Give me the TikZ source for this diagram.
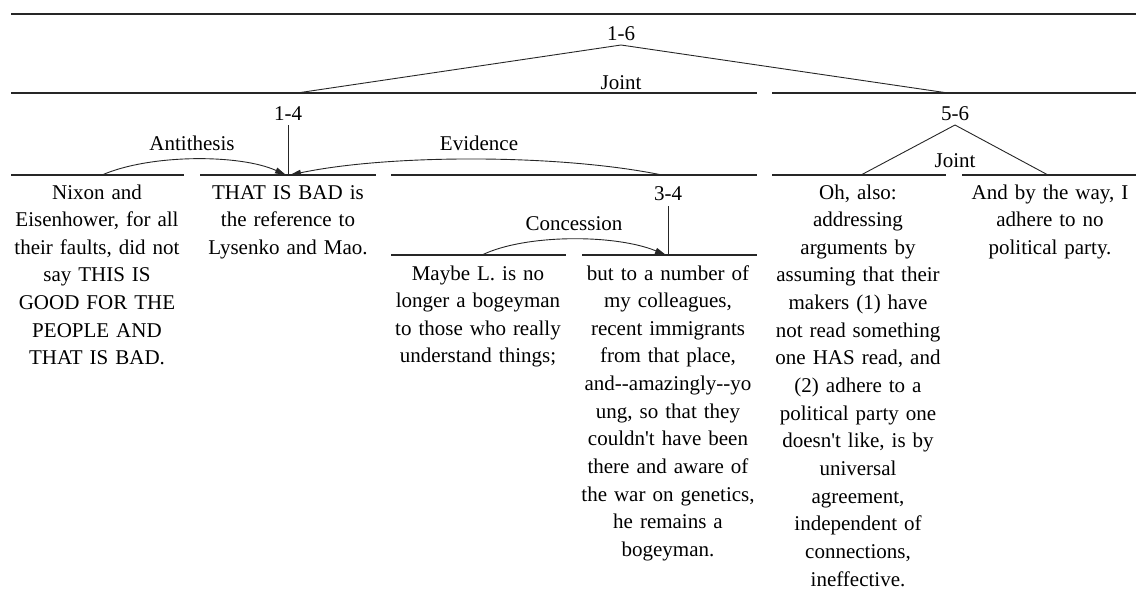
\documentclass[tikz,border=0pt]{standalone}
\usepackage{fontspec}
\setmainfont{Liberation Serif}
\usetikzlibrary{arrows.meta}
\begin{document}
\begin{tikzpicture}[x=1pt,y=-1pt,
  bar/.style={line width=1.1pt,draw=black!85},
  link/.style={line width=0.9pt,draw=black!85},
  rel/.style={line width=0.9pt,draw=black!85,-{Triangle[length=11pt,width=6pt]}},
  lab/.style={anchor=base,inner sep=0pt,font=\fontsize{21}{27.65}\selectfont},
  seg/.style={anchor=base,inner sep=0pt,align=center,text width=180pt,
              font=\fontsize{21}{27.65}\selectfont},
]
\useasboundingbox (0,0) rectangle (1139,590);

% span bars
\coordinate (r0w) at (11,14);   \coordinate (r0e) at (1136,14);
\coordinate (a14w) at (11,93);  \coordinate (a14e) at (757,93);
\coordinate (a56w) at (772,93); \coordinate (a56e) at (1136,93);
\coordinate (u1w) at (11,175);  \coordinate (u1e) at (184,175);
\coordinate (u2w) at (200,175); \coordinate (u2e) at (376,175);
\coordinate (a34w) at (391,175);\coordinate (a34e) at (757,175);
\coordinate (u5w) at (772,175); \coordinate (u5e) at (946,175);
\coordinate (u6w) at (962,175); \coordinate (u6e) at (1136,175);
\coordinate (u3w) at (391,255); \coordinate (u3e) at (566,255);
\coordinate (u4w) at (582,255); \coordinate (u4e) at (757,255);
\foreach \p in {r0,a14,a56,u1,u2,a34,u5,u6,u3,u4}
  \draw[bar] (\p w) -- (\p e);

% span and relation labels
\node[lab] (n16) at (621,40) {1-6};
\node[lab] (j16) at (621,89) {Joint};
\node[lab] (n14) at (288,120) {1-4};
\node[lab] (n56) at (955,120) {5-6};
\node[lab] (j56) at (955,167) {Joint};
\node[lab] (rant) at (192,150) {Antithesis};
\node[lab] (revi) at (479,150) {Evidence};
\node[lab] (n34) at (668,200) {3-4};
\node[lab] (rcon) at (574,230) {Concession};

% multinuclear joints
\coordinate (t16) at (621,45);
\coordinate (f14) at (297,93);
\coordinate (f56) at (948,93);
\draw[link] (f14) -- (t16) -- (f56);
\coordinate (t56) at (955,125);
\coordinate (f5) at (861,175);
\coordinate (f6) at (1048,175);
\draw[link] (f5) -- (t56) -- (f6);

% nucleus stems
\coordinate (t14) at (288,125); \coordinate (h14) at (288,175);
\draw[link] (t14) -- (h14);
\coordinate (t34) at (668,206); \coordinate (h34) at (668,255);
\draw[link] (t34) -- (h34);

% satellite arcs
\coordinate (s1) at (102,175);  \coordinate (e1) at (286,175);
\draw[rel] (s1) .. controls (150,154) and (240,154) .. (e1);
\coordinate (s34) at (662,175); \coordinate (e34) at (290,175);
\draw[rel] (s34) .. controls (560,154) and (390,154) .. (e34);
\coordinate (s3) at (482,255);  \coordinate (e3) at (666,255);
\draw[rel] (s3) .. controls (525,234) and (615,234) .. (e3);

% elementary units
\node[seg] (x1) at (97,199) {Nixon and\\Eisenhower, for all\\their faults, did not\\say THIS IS\\GOOD FOR THE\\PEOPLE AND\\THAT IS BAD.};
\node[seg] (x2) at (288,199) {THAT IS BAD is\\the reference to\\Lysenko and Mao.};
\node[seg] (x3) at (478,280) {Maybe L. is no\\longer a bogeyman\\to those who really\\understand things;};
\node[seg] (x4) at (668,280) {but to a number of\\my colleagues,\\recent immigrants\\from that place,\\and-{}-amazingly-{}-yo\\ung, so that they\\couldn\textquotesingle t have been\\there and aware of\\the war on genetics,\\he remains a\\bogeyman.};
\node[seg] (x5) at (858,199) {Oh, also:\\addressing\\arguments by\\assuming that their\\makers (1) have\\not read something\\one HAS read, and\\(2) adhere to a\\political party one\\doesn\textquotesingle t like, is by\\universal\\agreement,\\independent of\\connections,\\ineffective.};
\node[seg] (x6) at (1050,199) {And by the way, I\\adhere to no\\political party.};
\end{tikzpicture}
\end{document}
